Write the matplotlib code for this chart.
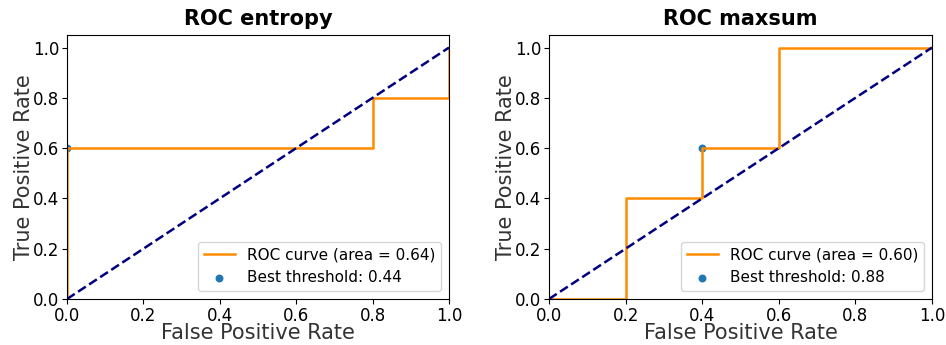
import matplotlib
matplotlib.use("Agg")
import matplotlib.pyplot as plt

titles = ["ROC entropy", "ROC maxsum"]
fpr_entropy = [0.0, 0.0, 0.8, 0.8, 1.0, 1.0]
tpr_entropy = [0.0, 0.6, 0.6, 0.8, 0.8, 1.0]
fpr_maxsum = [0.0, 0.2, 0.2, 0.4, 0.4, 0.6, 0.6, 1.0]
tpr_maxsum = [0.0, 0.0, 0.4, 0.4, 0.6, 0.6, 1.0, 1.0]
aucs = [0.64, 0.60]
best_points = [(0.0, 0.6), (0.4, 0.6)]
best_thresholds = [0.44, 0.88]

fig = plt.figure(figsize=(9.46, 3.45), dpi=100)
ax1 = fig.add_axes([0.0708, 0.1333, 0.4038, 0.7653])
ax2 = fig.add_axes([0.5803, 0.1333, 0.4049, 0.7653])

curves = [(fpr_entropy, tpr_entropy), (fpr_maxsum, tpr_maxsum)]
for ax, title, (fpr, tpr), auc, pt, thr in zip([ax1, ax2], titles, curves, aucs, best_points, best_thresholds):
    ax.plot(fpr, tpr, color='darkorange', lw=1.8, label='ROC curve (area = %0.2f)' % auc)
    ax.plot([0, 1], [0, 1], color='navy', lw=1.8, linestyle='--')
    # scatter stays under the lines (default zorder), as in the original
    ax.scatter([pt[0]], [pt[1]], s=22, color='#1f77b4', label='Best threshold: %0.2f' % thr)
    ax.set_xlim([0.0, 1.0])
    ax.set_ylim([0.0, 1.05])
    ax.set_xlabel('False Positive Rate', fontsize=15, color='#333333', labelpad=-1)
    ax.set_ylabel('True Positive Rate', fontsize=15, color='#333333', labelpad=-1)
    ax.set_title(title, fontsize=15, fontweight='bold', pad=7)
    ax.tick_params(labelsize=12, pad=2)
    ax.legend(loc='lower right', fontsize=11)

fig.savefig('out.png', dpi=100)
